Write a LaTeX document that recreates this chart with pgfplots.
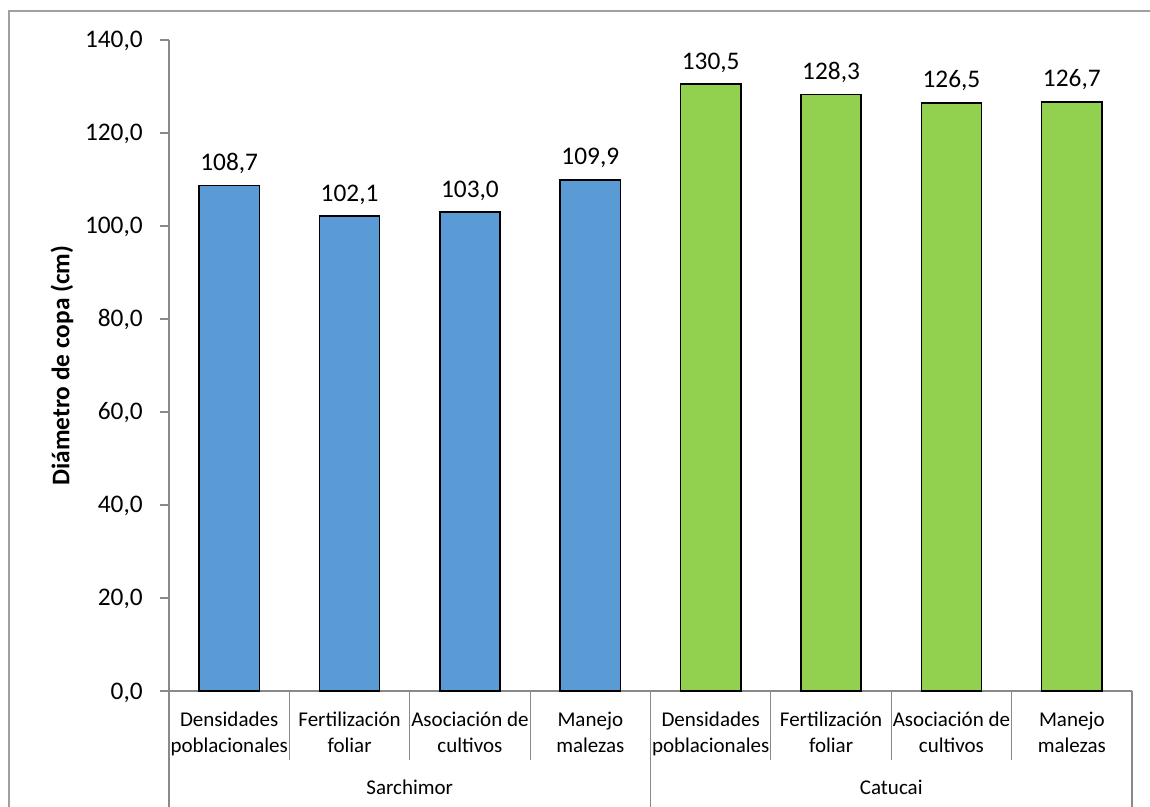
\documentclass[border=0pt]{standalone}
\usepackage{fontspec}
\setmainfont{Carlito}
\usepackage{pgfplots}
\pgfplotsset{compat=1.18}
\definecolor{barblue}{HTML}{5B9BD5}
\definecolor{bargreen}{HTML}{92D050}
\definecolor{axisgray}{HTML}{898989}
\definecolor{framegray}{HTML}{A0A0A0}
\newcommand{\bigfont}{\fontsize{19}{23}\selectfont}
\newcommand{\catfont}{\fontsize{15.75}{19.5}\selectfont}
\begin{document}
\begin{tikzpicture}
\useasboundingbox (0,0) rectangle (862.5pt,605.25pt);
\draw[framegray, line width=0.9pt] (6.75pt,-5pt) -- (6.75pt,597pt) -- (870pt,597pt);
\begin{axis}[
  at={(126.75pt,87pt)}, anchor=south west,
  scale only axis, width=722.25pt, height=488.25pt,
  clip=false,
  xmin=-0.5, xmax=7.5, ymin=0, ymax=140,
  axis lines*=left,
  axis line style={axisgray, line width=0.8pt, -},
  ytick={0,20,...,140},
  ytick style={axisgray, line width=0.8pt},
  tick align=outside, major tick length=6.75pt,
  xtick={0,...,7},
  x tick style={draw=none},
  xticklabels={{Densidades\\poblacionales},{Fertilización\\foliar},{Asociación de\\cultivos},{Manejo\\malezas},{Densidades\\poblacionales},{Fertilización\\foliar},{Asociación de\\cultivos},{Manejo\\malezas}},
  xticklabel style={align=center, anchor=north, inner sep=0pt, yshift=-8.5pt, font=\catfont},
  yticklabel style={anchor=base east, inner sep=0pt, xshift=-12.75pt, yshift=-6pt, font=\bigfont,
    /pgf/number format/.cd, fixed, fixed zerofill, precision=1, use comma, assume math mode=true},
  ylabel={\textbf{Diámetro de copa (cm)}},
  ylabel style={at={(axis description cs:0,0.5)}, anchor=center, yshift=80.25pt, font=\bigfont},
  ybar, bar width=0.5, bar shift=0pt,
  nodes near coords,
  nodes near coords style={anchor=base, inner sep=0pt, yshift=11.25pt, font=\bigfont, text=black,
    /pgf/number format/.cd, fixed, fixed zerofill, precision=1, use comma, assume math mode=true},
]
\addplot[fill=barblue, draw=black, line width=1.1pt] coordinates {(0,108.7) (1,102.1) (2,103.0) (3,109.9)};
\addplot[fill=bargreen, draw=black, line width=1.1pt] coordinates {(4,130.5) (5,128.3) (6,126.5) (7,126.7)};
% category separators below the axis
\pgfplotsinvokeforeach{0.5,1.5,2.5,4.5,5.5,6.5}{
  \draw[axisgray, line width=0.8pt] (axis cs:#1,0) -- ++(0pt,-51.75pt);
}
% group separators reach the bottom edge
\pgfplotsinvokeforeach{-0.5,3.5,7.5}{
  \draw[axisgray, line width=0.8pt] (axis cs:#1,0) -- ++(0pt,-90pt);
}
\path (axis cs:1.5,0) ++(0pt,-72pt) node[font=\catfont, anchor=center] {Sarchimor};
\path (axis cs:5.5,0) ++(0pt,-72pt) node[font=\catfont, anchor=center] {Catucai};
\end{axis}
\end{tikzpicture}
\end{document}
